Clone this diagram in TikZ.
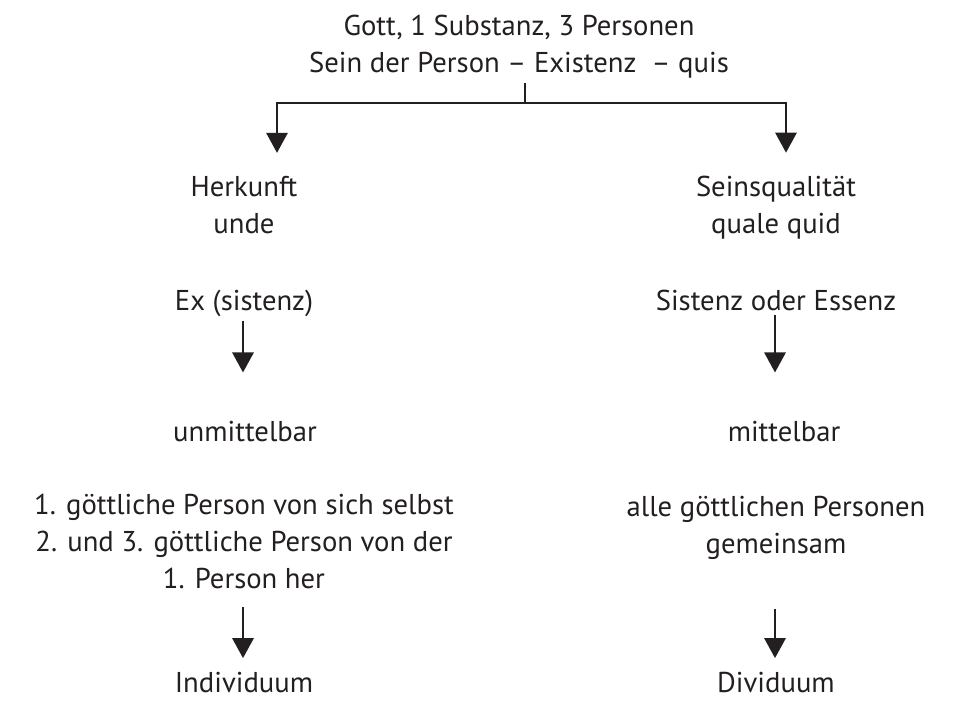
\documentclass[tikz,border=0pt]{standalone}
\usepackage{fontspec}
\setmainfont{PT Sans}
\usetikzlibrary{arrows.meta}
\definecolor{ink}{HTML}{231F20}
\tikzset{
  txt/.style={anchor=base, align=center, inner sep=0pt, text=ink,
    font=\fontsize{21.5}{27.75}\selectfont},
  arr/.style={draw=ink, line width=1.5pt, -{Triangle[width=16pt,length=15pt]}}
}
\begin{document}
\begin{tikzpicture}[x=0.75pt,y=-0.75pt]
            \useasboundingbox (0,0) rectangle (964,700);

            \node[txt] (gott) at (519,72) {Gott, 1 Substanz, 3 Personen\\Sein der Person -- Existenz\ \ -- quis};

            \node[txt] (herk) at (244,233) {Herkunft\\unde};
            \node[txt] (seins) at (776,233) {Seinsqualität\\quale quid};

            \node[txt] (ex) at (244,310) {Ex (sistenz)};
            \node[txt] (sist) at (776,310) {Sistenz oder Essenz};

            \node[txt] (unm) at (245,441) {unmittelbar};
            \node[txt] (mit) at (784,441) {mittelbar};

            \node[txt] (erst) at (244,588) {1. göttliche Person von sich selbst\\2. und 3. göttliche Person von der\\1. Person her};
            \node[txt] (alle) at (776,553) {alle göttlichen Personen\\gemeinsam};

            \node[txt] (indiv) at (244,692) {Individuum};
            \node[txt] (divid) at (776,692) {Dividuum};

            \coordinate (fork) at (525,103);
            \coordinate (l) at (277,103);
            \coordinate (r) at (786,103);

            \draw[draw=ink, line width=1.5pt, shorten <=4pt] (gott.south -| fork) -- (fork);
            \draw[arr, shorten >=17pt] (fork) -| (herk.north -| l);
            \draw[arr, shorten >=17pt] (fork) -| (seins.north -| r);

            \draw[arr, shorten <=3pt, shorten >=36pt] (ex.south -| 243,0) -- (unm.north -| 243,0);
            \draw[arr, shorten <=3pt, shorten >=36pt] (sist.south -| 775,0) -- (mit.north -| 775,0);

            \draw[arr, shorten <=14pt, shorten >=10pt] (erst.south -| 243,0) -- (indiv.north -| 243,0);
            \draw[arr, shorten <=37pt, shorten >=10pt] (alle.south -| 775,0) -- (divid.north -| 775,0);
\end{tikzpicture}
\end{document}
